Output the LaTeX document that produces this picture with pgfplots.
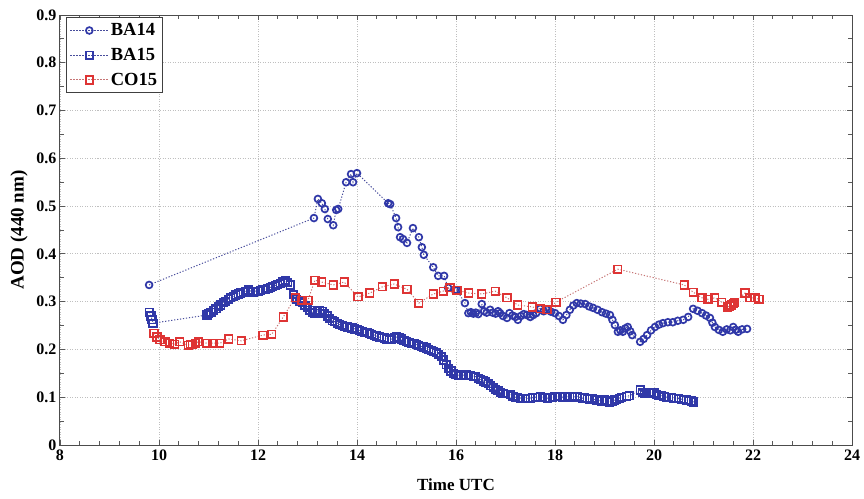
\documentclass[border=0pt]{standalone}
\usepackage{pgfplots}
\pgfplotsset{compat=1.18}
\usepackage{fontspec}
\setmainfont{Liberation Serif}
\definecolor{bblue}{RGB}{48,56,168}
\definecolor{rred}{RGB}{222,52,52}
\begin{document}
\begin{tikzpicture}
\path[use as bounding box] (-60pt,-53pt) rectangle (804pt,445pt);
\begin{axis}[
  scale only axis, width=792pt, height=430pt,
  xmin=8, xmax=24, ymin=0, ymax=0.9,
  xtick={8,10,...,24}, ytick={0,0.1,...,0.9},
  minor x tick num=4, minor y tick num=1,
  tick align=inside, major tick length=5pt, minor tick length=4pt,
  tick style={gray!70!black, line width=0.8pt},
  axis line style={gray!60!black, line width=1pt},
  grid=major, major grid style={gray!50, dash pattern=on 1pt off 1.5pt, line width=0.8pt},
  /pgf/number format/assume math mode=true,
  ticklabel style={font=\fontsize{16}{19}\selectfont\bfseries},
  xticklabel style={yshift=-1pt},
  xlabel={Time UTC}, ylabel={AOD (440 nm)},
  xlabel style={font=\fontsize{17}{20}\selectfont\bfseries, yshift=-12pt},
  ylabel style={font=\fontsize{19}{22}\selectfont\bfseries, yshift=2pt},
  legend style={at={(0.008,0.995)}, anchor=north west, draw=gray!50!black, line width=1pt,
    font=\fontsize{18.5}{22}\selectfont\bfseries, row sep=7pt, inner xsep=3pt, inner ysep=4pt},
  legend image code/.code={%
    \draw[#1, mark repeat=2, mark phase=2] plot coordinates {(0pt,0pt) (19pt,0pt) (38pt,0pt)};},
  legend cell align=left,
]
\addplot[color=bblue!70!gray, dash pattern=on 1.2pt off 1.8pt, line width=1pt,
  mark=o, mark size=3.4pt, mark options={solid, draw=bblue, line width=1.7pt}] coordinates {
(9.80,0.335) (13.13,0.475) (13.21,0.515) (13.29,0.506) (13.35,0.494) (13.41,0.473) (13.52,0.460)
(13.58,0.492) (13.62,0.494) (13.78,0.550) (13.88,0.567) (13.92,0.550) (14.00,0.569)
(14.63,0.506) (14.67,0.504) (14.79,0.475) (14.83,0.456) (14.87,0.435) (14.93,0.431) (15.01,0.423)
(15.13,0.454) (15.25,0.435) (15.31,0.414) (15.35,0.398) (15.54,0.372) (15.64,0.354) (15.76,0.354)
(15.84,0.329) (15.98,0.324) (16.02,0.324) (16.18,0.297) (16.25,0.276) (16.30,0.278) (16.35,0.275)
(16.40,0.277) (16.45,0.274) (16.52,0.295) (16.57,0.280) (16.62,0.277) (16.69,0.283) (16.74,0.277)
(16.80,0.275) (16.85,0.280) (16.89,0.276) (16.95,0.270) (17.03,0.266) (17.08,0.276) (17.14,0.271)
(17.20,0.268) (17.25,0.262) (17.31,0.270) (17.37,0.274) (17.43,0.272) (17.50,0.268) (17.56,0.272)
(17.62,0.276) (17.70,0.285) (17.77,0.280) (17.84,0.283) (17.92,0.279) (18.00,0.276) (18.08,0.270)
(18.16,0.262) (18.23,0.272) (18.30,0.283) (18.37,0.292) (18.44,0.297) (18.52,0.296) (18.61,0.295)
(18.69,0.290) (18.77,0.287) (18.86,0.283) (18.95,0.278) (19.03,0.275) (19.11,0.272) (19.16,0.262)
(19.21,0.251) (19.27,0.237) (19.32,0.240) (19.37,0.237) (19.42,0.244) (19.47,0.247) (19.52,0.238)
(19.56,0.230) (19.72,0.216) (19.79,0.222) (19.86,0.230) (19.94,0.240) (20.02,0.247) (20.10,0.252)
(20.18,0.255) (20.28,0.257) (20.38,0.257) (20.48,0.260) (20.59,0.262) (20.69,0.268) (20.79,0.285)
(20.88,0.281) (20.97,0.276) (21.05,0.271) (21.13,0.266) (21.18,0.256) (21.23,0.247) (21.31,0.241)
(21.39,0.237) (21.47,0.242) (21.54,0.240) (21.60,0.247) (21.65,0.241) (21.70,0.237) (21.78,0.242)
(21.88,0.243)
};
\addlegendentry{BA14}
\addplot[color=bblue!70!gray, dash pattern=on 1.2pt off 1.8pt, line width=1pt,
  mark=square, mark size=3.7pt, mark options={solid, draw=bblue, line width=1.8pt}] coordinates {
(9.80,0.278) (9.84,0.270) (9.86,0.262) (9.88,0.255)
(10.97,0.272) (11.00,0.275) (11.05,0.278) (11.10,0.282) (11.15,0.285) (11.20,0.290) (11.25,0.293)
(11.30,0.298) (11.35,0.300) (11.40,0.305) (11.45,0.308) (11.50,0.310) (11.55,0.314) (11.60,0.316)
(11.65,0.318) (11.70,0.320) (11.75,0.322) (11.80,0.325) (11.85,0.322) (11.90,0.320) (11.95,0.322)
(12.00,0.322) (12.05,0.324) (12.10,0.325) (12.15,0.326) (12.20,0.328) (12.25,0.330) (12.30,0.332)
(12.35,0.334) (12.40,0.336) (12.45,0.338) (12.50,0.342) (12.55,0.344) (12.60,0.340) (12.65,0.335)
(12.72,0.315) (12.78,0.305) (12.85,0.300) (12.90,0.298) (12.95,0.292) (13.00,0.288) (13.05,0.282)
(13.10,0.278) (13.15,0.276) (13.20,0.280) (13.25,0.282) (13.30,0.280) (13.35,0.275) (13.40,0.270)
(13.45,0.265) (13.50,0.260) (13.55,0.258) (13.60,0.255) (13.65,0.252) (13.70,0.250) (13.75,0.248)
(13.80,0.247) (13.85,0.246) (13.90,0.245) (13.95,0.243) (14.00,0.242) (14.05,0.240) (14.10,0.238)
(14.15,0.236) (14.20,0.235) (14.25,0.233) (14.30,0.232) (14.35,0.230) (14.40,0.228) (14.45,0.226)
(14.50,0.225) (14.55,0.224) (14.60,0.222) (14.65,0.220) (14.70,0.222) (14.75,0.224) (14.80,0.226)
(14.85,0.225) (14.90,0.222) (14.95,0.218) (15.00,0.216) (15.05,0.215) (15.10,0.213) (15.15,0.212)
(15.20,0.210) (15.25,0.208) (15.30,0.206) (15.35,0.205) (15.40,0.203) (15.45,0.200) (15.50,0.198)
(15.55,0.196) (15.60,0.193) (15.65,0.190) (15.70,0.185) (15.75,0.178) (15.80,0.168) (15.85,0.160)
(15.90,0.155) (15.95,0.150) (16.00,0.147) (16.05,0.146) (16.10,0.145) (16.15,0.146) (16.20,0.147)
(16.25,0.146) (16.30,0.145) (16.35,0.144) (16.40,0.143) (16.45,0.140) (16.50,0.137) (16.55,0.134)
(16.60,0.132) (16.65,0.128) (16.70,0.124) (16.75,0.120) (16.80,0.117) (16.85,0.114) (16.90,0.110)
(16.95,0.108)
(17.10,0.105) (17.15,0.102) (17.20,0.100) (17.25,0.099) (17.30,0.098) (17.35,0.097) (17.40,0.097)
(17.45,0.098) (17.50,0.098) (17.55,0.099) (17.60,0.100) (17.65,0.100) (17.70,0.101) (17.75,0.100)
(17.80,0.099) (17.85,0.098) (17.90,0.099) (17.95,0.100) (18.00,0.101) (18.05,0.102) (18.10,0.101)
(18.15,0.100) (18.20,0.100) (18.25,0.101) (18.30,0.102) (18.35,0.100) (18.40,0.101) (18.45,0.102)
(18.50,0.100) (18.55,0.098) (18.60,0.099) (18.65,0.097) (18.70,0.096) (18.75,0.097) (18.80,0.095)
(18.85,0.094) (18.90,0.093) (18.95,0.092) (19.00,0.094) (19.05,0.092) (19.10,0.090) (19.15,0.092)
(19.20,0.094) (19.25,0.096) (19.30,0.098) (19.35,0.100) (19.45,0.102) (19.50,0.103)
(19.72,0.115) (19.76,0.110) (19.80,0.108) (19.85,0.109) (19.90,0.110) (19.95,0.110) (20.00,0.109)
(20.05,0.106) (20.10,0.104) (20.15,0.103) (20.20,0.101) (20.25,0.100) (20.30,0.100) (20.35,0.099)
(20.40,0.098) (20.45,0.098) (20.50,0.097) (20.55,0.096) (20.60,0.095) (20.65,0.094) (20.70,0.093)
(20.75,0.092) (20.80,0.090)
};
\addlegendentry{BA15}
\addplot[color=rred!60!gray!80, dash pattern=on 1.2pt off 1.8pt, line width=1pt,
  mark=square, mark size=3.7pt, mark options={solid, draw=rred, line width=1.8pt}] coordinates {
(9.90,0.234) (9.96,0.226) (10.02,0.220) (10.12,0.216) (10.22,0.213) (10.32,0.211) (10.42,0.216)
(10.59,0.209) (10.63,0.210) (10.67,0.211) (10.73,0.213) (10.79,0.216) (10.97,0.213) (11.09,0.213)
(11.23,0.213) (11.41,0.222) (11.66,0.218) (12.10,0.230) (12.28,0.232) (12.51,0.268) (12.75,0.308)
(12.89,0.303) (13.01,0.303) (13.15,0.345) (13.29,0.341) (13.52,0.335) (13.74,0.341) (14.02,0.310)
(14.26,0.318) (14.51,0.331) (14.75,0.337) (15.01,0.326) (15.25,0.297) (15.54,0.316) (15.74,0.322)
(15.88,0.329) (16.02,0.324) (16.26,0.318) (16.52,0.316) (16.79,0.322) (17.03,0.308) (17.25,0.293)
(17.54,0.289) (17.70,0.285) (17.84,0.283) (18.02,0.299) (19.27,0.368) (20.61,0.335) (20.79,0.320)
(20.97,0.308) (21.09,0.305) (21.23,0.308) (21.37,0.299) (21.49,0.289) (21.53,0.291) (21.56,0.293)
(21.60,0.296) (21.63,0.299) (21.84,0.318) (21.94,0.308) (22.04,0.308) (22.12,0.305)
};
\addlegendentry{CO15}
\end{axis}
\end{tikzpicture}
\end{document}
